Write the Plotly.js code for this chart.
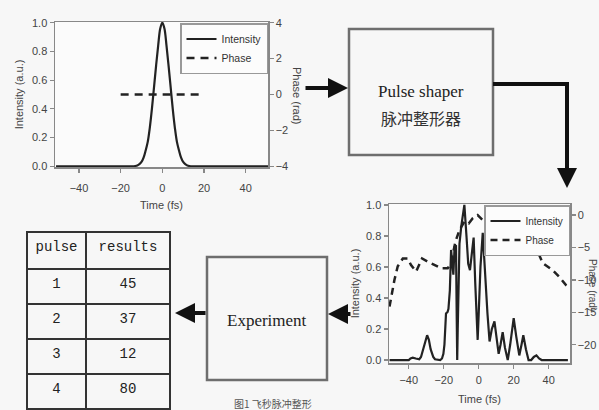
<!DOCTYPE html>
<html>
<head>
<meta charset="utf-8">
<script src="https://cdn.plot.ly/plotly-3.0.1.min.js"></script>
<style>html,body{margin:0;padding:0;background:#f7f7f7;}#chart{width:599px;height:410px;}</style>
</head>
<body>
<div id="chart"></div>
<script>
// ---- Input pulse (top-left plot) ----
const inTime = [-51,-15,-13,-12,-11,-10,-9,-8,-7,-6,-5,-4,-3,-2,-1,0,1,2,3,4,5,6,7,8,9,10,11,12,13,15,51];
const inIntensity = [0,0,0.002,0.006,0.015,0.03,0.06,0.11,0.17,0.27,0.4,0.55,0.7,0.84,0.96,1,0.96,0.84,0.7,0.55,0.4,0.27,0.17,0.11,0.06,0.03,0.015,0.006,0.002,0,0];
const inPhaseTime = [-20,20];
const inPhase = [0,0];

// ---- Shaped pulse (bottom-right plot) ----
const outTime = [-51,-40,-39,-37.7,-36,-34,-33,-31.5,-30.5,-29.5,-28.5,-27.5,-26,-25,-22,-21,-20.2,-19.6,-18.7,-17.8,-17.3,-16.5,-15.8,-15.1,-14.5,-13.8,-13,-12.6,-12.3,-12,-11,-10,-9,-8.2,-7,-6,-5,-4,-2.9,-2,-1.2,-0.6,0,1,2.3,3.5,5,6.2,7.5,9,10,11.4,12.5,13.7,15,16.6,18,20,21.5,23.2,24.5,25.5,27,28.5,30,31.5,33,34.5,36,51];
const outIntensity = [0,0,0.01,0.015,0.01,0.005,0.02,0.08,0.13,0.16,0.13,0.07,0.02,0.005,0,0.01,0.04,0.1,0.3,0.31,0.33,0.45,0.71,0.6,0.55,0.73,0.74,0.3,0.0,0.2,0.75,0.86,0.95,1.0,0.8,0.62,0.58,0.68,0.79,0.5,0.22,0.13,0.3,0.6,0.82,0.55,0.3,0.12,0.2,0.25,0.15,0.04,0.1,0.18,0.08,0.0,0.1,0.27,0.15,0.03,0.1,0.16,0.07,0.0,0.0,0.02,0.03,0.01,0,0];
const outPhaseTime = [-51,-48.2,-46.3,-43.4,-40.6,-38.7,-35.8,-32.4,-29.1,-25.3,-21.5,-17.7,-15.8,-13.3,-11,-8.2,-5.7,-3.4,-0.6,2.3,5.1,9,12.2,15,20,25,30,34,36.6,42.3,46,49.9,52];
const outPhase = [-14.1,-10,-7.9,-6.7,-6.7,-7.7,-8.7,-6.7,-7.2,-7.7,-8.2,-8.2,-7.4,-4.1,-2.3,-1.0,-1.3,-0.5,0,-0.8,-1.5,-0.3,0.8,1.0,0,-2,-4,-5.8,-7.4,-8.5,-9.5,-10.8,-11.2];

// ---- Results table ----
const tableHeader = ['pulse','results'];
const pulses = ['1','2','3','4'];
const results = ['45','37','12','80'];

// ---- Text labels ----
const legendNames = ['Intensity','Phase'];
const shaperLabel = 'Pulse shaper';
const shaperLabelCn = '脉冲整形器';
const experimentLabel = 'Experiment';
const captionLabel = '图1 飞秒脉冲整形';

const W = 599, H = 410;
const px = x => x / W;
const py = y => 1 - y / H;

const lineCol = '#222';
const tickFont = {family:'Liberation Sans, Arial, sans-serif', size:11, color:'#444'};
const titleFont = {family:'Liberation Sans, Arial, sans-serif', size:11, color:'#444'};

const traces = [
  {x: inTime, y: inIntensity, type:'scatter', mode:'lines', name: legendNames[0],
   line:{color:lineCol, width:2.2, shape:'spline'}, xaxis:'x', yaxis:'y', legend:'legend'},
  {x: inPhaseTime, y: inPhase, type:'scatter', mode:'lines', name: legendNames[1],
   line:{color:lineCol, width:2.5, dash:'8px,6px'}, xaxis:'x', yaxis:'y2', legend:'legend'},
  {x: outTime, y: outIntensity, type:'scatter', mode:'lines', name: legendNames[0],
   line:{color:lineCol, width:2.2}, xaxis:'x3', yaxis:'y3', legend:'legend2'},
  {x: outPhaseTime, y: outPhase, type:'scatter', mode:'lines', name: legendNames[1],
   line:{color:lineCol, width:2.5, dash:'7px,5px'}, xaxis:'x3', yaxis:'y4', legend:'legend2'},
  {type:'table',
   domain:{x:[px(27), px(170)], y:[0, py(232)]},
   columnwidth:[59,84],
   header:{values: tableHeader, align:'center', height:37,
     line:{color:'#333', width:2}, fill:{color:'#f7f7f7'},
     font:{family:'Liberation Mono, Courier New, monospace', size:14, color:'#222'}},
   cells:{values:[pulses, results], align:'center', height:35,
     line:{color:'#333', width:2}, fill:{color:'#f7f7f7'},
     font:{family:'Liberation Mono, Courier New, monospace', size:14, color:'#222'}}
  }
];

const axBase = {showline:true, linecolor:'#888', linewidth:1.5, ticks:'outside', ticklen:4,
  tickcolor:'#888', tickwidth:1.2, showgrid:false, zeroline:false, tickfont:tickFont};

const ann = (x, y, text, font, extra) => Object.assign({xref:'paper', yref:'paper', x:px(x), y:py(y),
  text:text, showarrow:false, xanchor:'center', yanchor:'middle', font:font}, extra || {});
const arrow = (x, y, ax, ay) => ({xref:'paper', yref:'paper', x:px(x), y:py(y), ax:ax, ay:ay, text:'',
  showarrow:true, arrowhead:2, arrowsize:1, arrowwidth:4, arrowcolor:'#111'});

const layout = {
  width: W, height: H,
  margin:{l:0, r:0, t:0, b:0},
  paper_bgcolor:'#f7f7f7', plot_bgcolor:'#fbfbfb',
  showlegend:true,
  xaxis: Object.assign({}, axBase, {domain:[px(55), px(268)], range:[-51.5, 50.7], anchor:'y',
    tickvals:[-40,-20,0,20,40], mirror:true, ticklabelstandoff:6,
    title:{text:'Time (fs)', font:titleFont, standoff:8}}),
  yaxis: Object.assign({}, axBase, {domain:[py(167), py(22)], range:[-0.005, 1.005], anchor:'x',
    tickvals:[0,0.2,0.4,0.6,0.8,1.0], tickformat:'.1f',
    title:{text:'Intensity (a.u.)', font:titleFont, standoff:6}}),
  yaxis2: Object.assign({}, axBase, {overlaying:'y', side:'right', anchor:'x', range:[-4.04, 4.04],
    tickvals:[-4,-2,0,2,4]}),
  xaxis3: Object.assign({}, axBase, {domain:[px(389), px(570)], range:[-51.3, 52.2], anchor:'y3',
    tickvals:[-40,-20,0,20,40], mirror:true, ticklabelstandoff:2,
    title:{text:'Time (fs)', font:titleFont, standoff:10}}),
  yaxis3: Object.assign({}, axBase, {domain:[py(363), py(204)], range:[-0.019, 1.006], anchor:'x3',
    tickvals:[0,0.2,0.4,0.6,0.8,1.0], tickformat:'.1f',
    title:{text:'Intensity (a.u.)', font:titleFont, standoff:4}}),
  yaxis4: Object.assign({}, axBase, {overlaying:'y3', side:'right', anchor:'x3', range:[-22.8, 1.7],
    tickvals:[-20,-15,-10,-5,0]}),
  legend:{x:px(268), y:py(23), xanchor:'right', yanchor:'top', bgcolor:'rgba(252,252,252,1)',
    bordercolor:'#999', borderwidth:1.5, font:{family:'Liberation Sans, Arial, sans-serif', size:10.5, color:'#333'},
    tracegroupgap:0, itemwidth:30},
  legend2:{x:px(570), y:py(205), xanchor:'right', yanchor:'top', bgcolor:'rgba(252,252,252,1)',
    bordercolor:'#999', borderwidth:1.5, font:{family:'Liberation Sans, Arial, sans-serif', size:10, color:'#333'},
    tracegroupgap:0, itemwidth:30},
  shapes:[
    {type:'rect', xref:'paper', yref:'paper', x0:px(349), x1:px(493), y0:py(155), y1:py(29),
     line:{color:'#6e6e6e', width:2.5}, fillcolor:'rgba(0,0,0,0)'},
    {type:'rect', xref:'paper', yref:'paper', x0:px(207), x1:px(327), y0:py(380), y1:py(257),
     line:{color:'#6e6e6e', width:2.5}, fillcolor:'rgba(0,0,0,0)'},
    {type:'path', xref:'paper', yref:'paper',
     path:'M '+px(493)+' '+py(84)+' L '+px(567)+' '+py(84)+' L '+px(567)+' '+py(172),
     line:{color:'#111', width:4}}
  ],
  annotations:[
    ann(297, 95, 'Phase (rad)', titleFont, {textangle:90}),
    ann(593, 285, 'Phase (rad)', {family:'Liberation Sans, Arial, sans-serif', size:10, color:'#444'}, {textangle:90}),
    ann(421, 92, shaperLabel, {family:'Liberation Serif, Times New Roman, serif', size:17, color:'#222'}),
    ann(421, 118, shaperLabelCn, {family:'Noto Sans CJK SC, sans-serif', size:16, color:'#333'}),
    ann(267, 320, experimentLabel, {family:'Liberation Serif, Times New Roman, serif', size:17, color:'#222'}),
    ann(273, 403, captionLabel, {family:'Noto Sans CJK SC, sans-serif', size:10, color:'#555'}),
    arrow(348, 88, -44, 0),
    arrow(567, 188, 0, -22),
    arrow(328, 314, 24, 0),
    arrow(175, 313, 32, 0)
  ]
};

Plotly.newPlot('chart', traces, layout, {displayModeBar:false, staticPlot:true});
</script>
</body>
</html>
